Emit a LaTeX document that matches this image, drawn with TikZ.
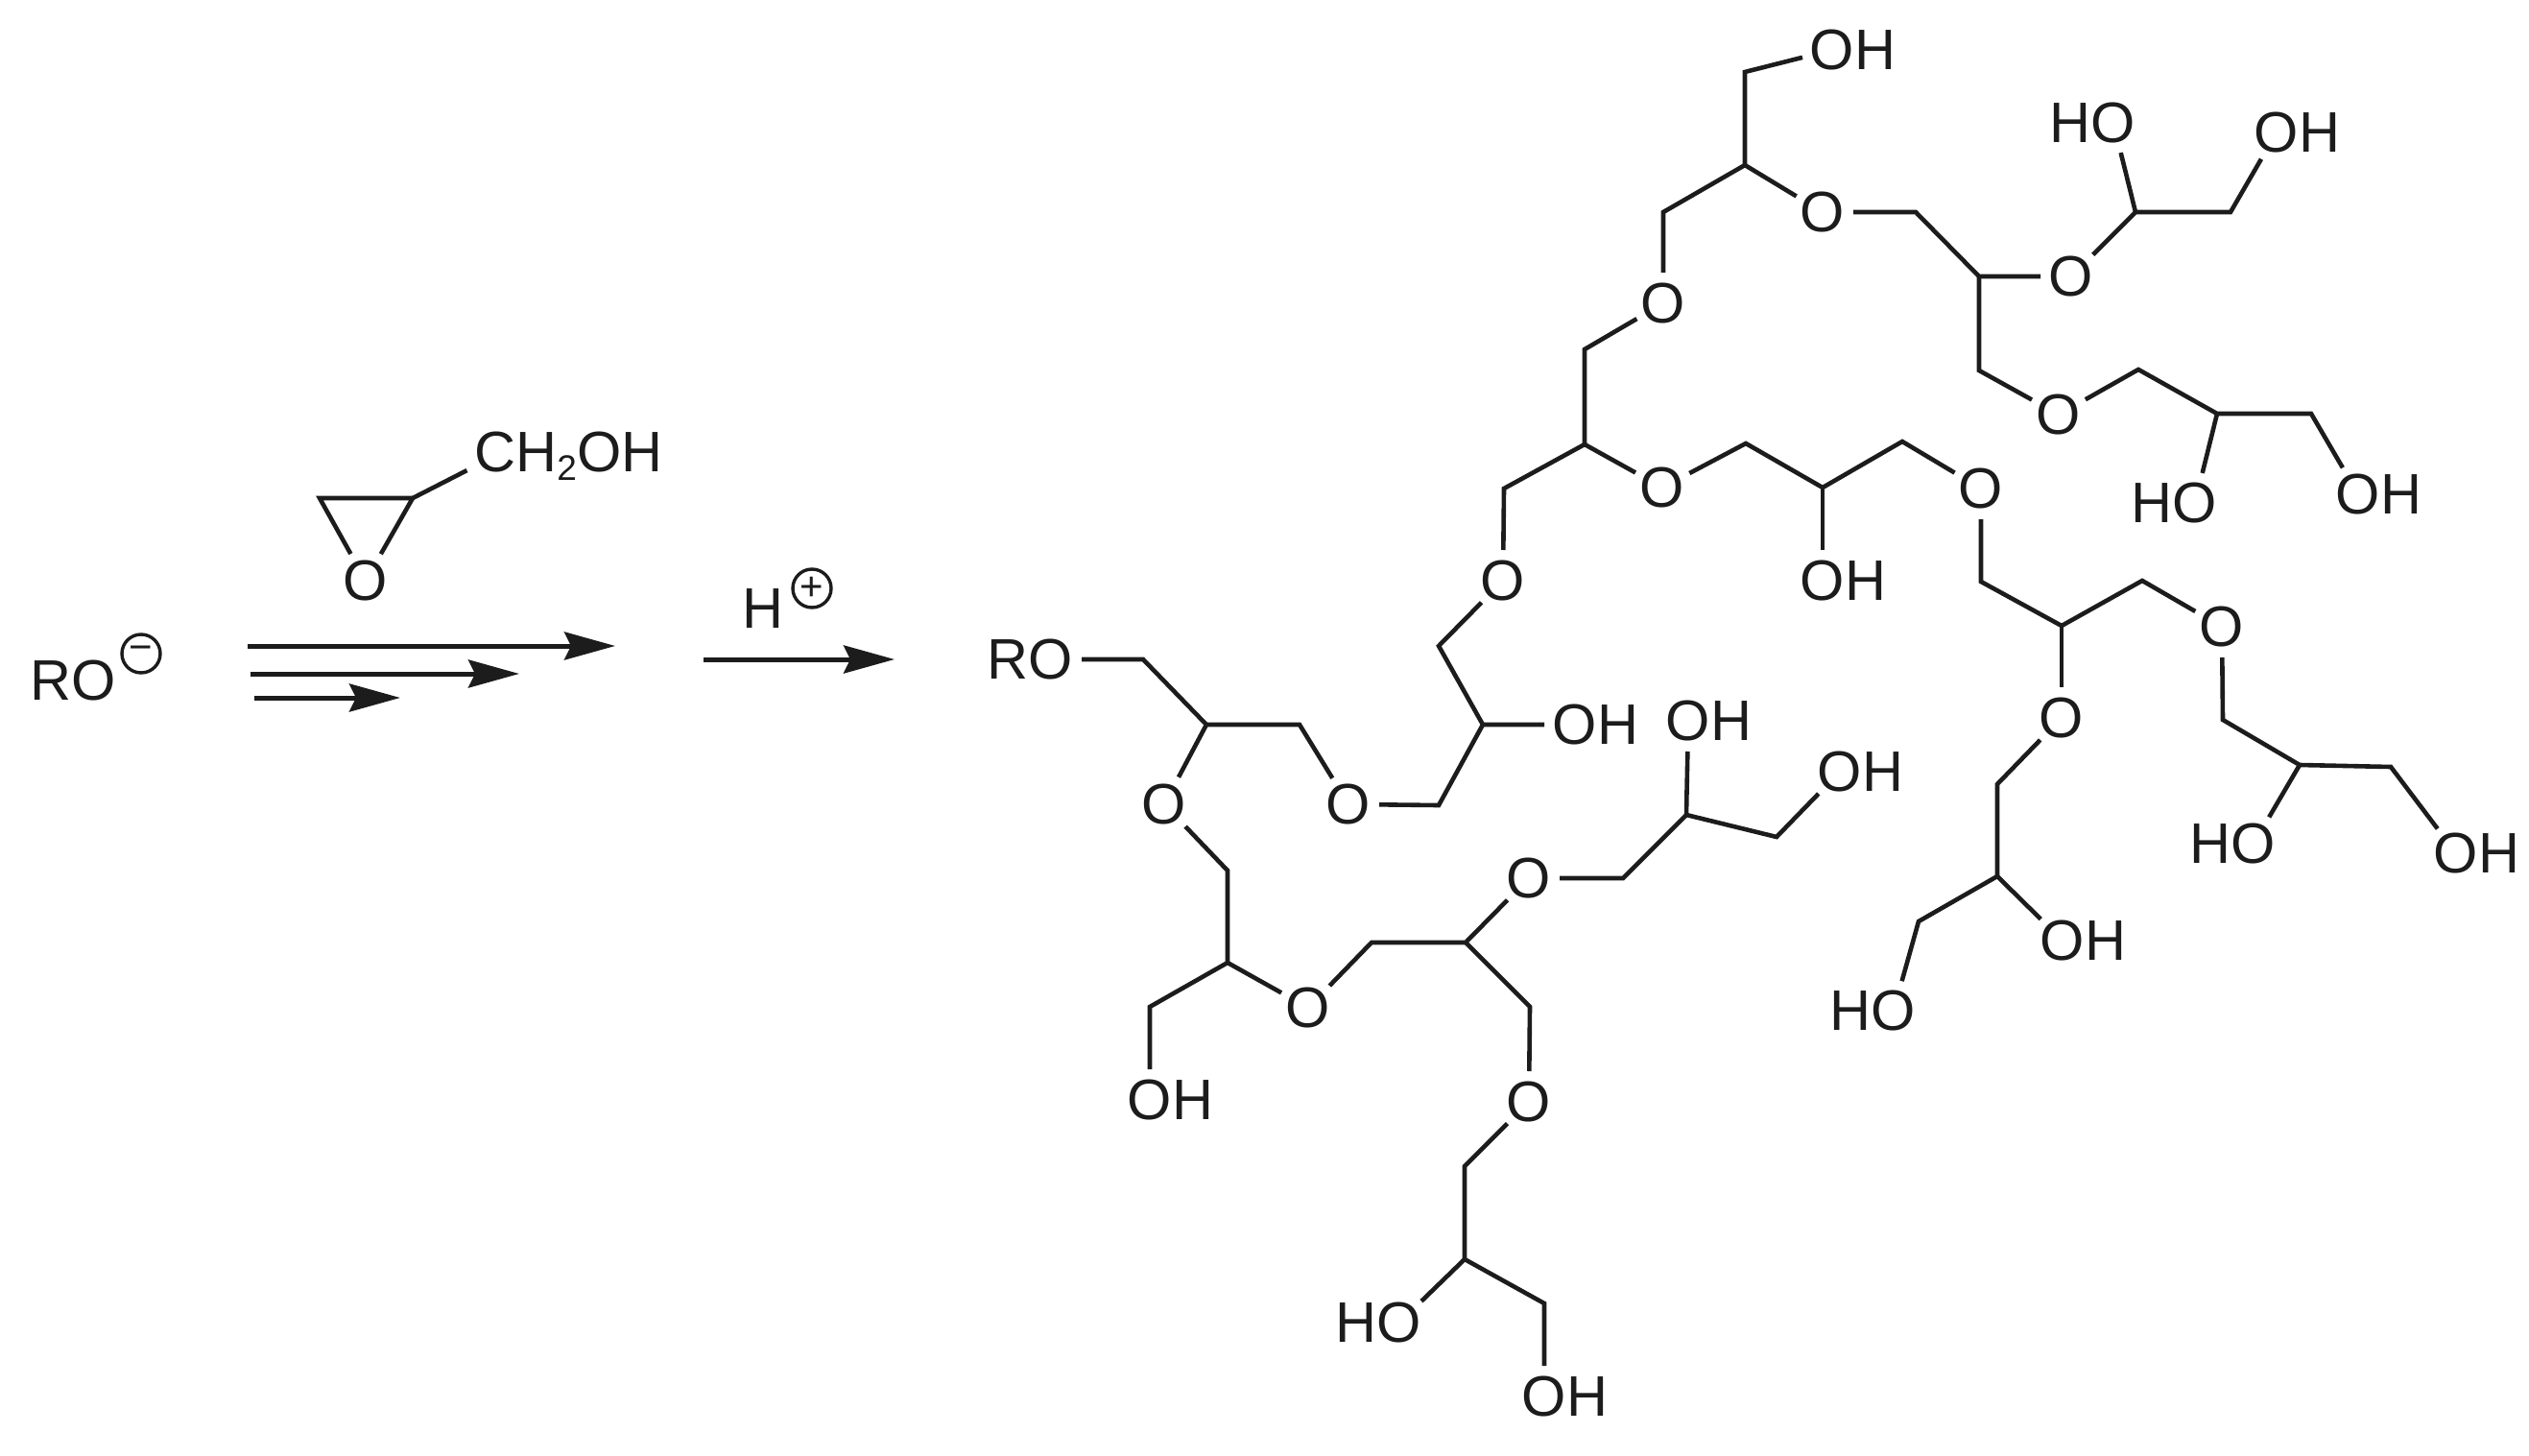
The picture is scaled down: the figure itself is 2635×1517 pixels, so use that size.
\documentclass[tikz,border=0pt]{standalone}
\usepackage{fontspec}
\setmainfont{Liberation Sans}
\usetikzlibrary{arrows.meta}
\definecolor{ink}{HTML}{1C1C1C}
\tikzset{
  atom/.style={circle,minimum size=64pt,inner sep=0pt,outer sep=0pt,text=ink,font=\fontsize{59.5}{70}\selectfont},
  plain/.style={inner sep=0pt,outer sep=0pt,text=ink,font=\fontsize{59.5}{70}\selectfont},
  bond/.style={draw=ink,line width=4.6pt,line join=miter},
  chg/.style={circle,draw=ink,line width=3.4pt,minimum size=40pt,inner sep=0pt,outer sep=0pt,text=ink,font=\fontsize{42}{42}\selectfont},
  rxn/.style={draw=ink,line width=5pt,-{Stealth[length=53pt,width=29pt,inset=7pt]}},
}
\newcommand{\OHr}{O\rlap{H}}
\newcommand{\HOl}{\llap{H}O}
\begin{document}
\begin{tikzpicture}[x=1pt,y=-1pt]
\useasboundingbox (0,0) rectangle (2635,1517);
% left side
\node[atom] (roLeft) at (98,709) {\llap{R}O};
\node[chg] (minus) at (147,681) {−};
\node[plain] (hplus) at (795,634) {H};
\node[chg] (plus) at (846,613) {+};
\coordinate (ep1) at (333,519);
\coordinate (ep2) at (430,519);
\node[atom] (epO) at (381,605) {O};
\node[atom] (epC) at (516,475) {C\rlap{H\raisebox{-9pt}{\fontsize{37}{37}\selectfont 2}OH}};
\draw[bond] (epO) -- (ep1) -- (ep2) -- (epO);
\draw[bond] (ep2) -- (epC);
\coordinate (a1s) at (258,673); \coordinate (a1e) at (641,673);
\coordinate (a2s) at (261,702); \coordinate (a2e) at (541,702);
\coordinate (a3s) at (265,727); \coordinate (a3e) at (417,727);
\coordinate (a4s) at (733,687); \coordinate (a4e) at (932,687);
\draw[rxn] (a1s) -- (a1e);
\draw[rxn] (a2s) -- (a2e);
\draw[rxn] (a3s) -- (a3e);
\draw[rxn] (a4s) -- (a4e);
% oxygens and hydroxyls
\node[atom] (ro) at (1095,687) {\llap{R}O};
\node[atom] (o1) at (1405,838) {O};
\node[atom] (oh1) at (1641,755) {\OHr};
\node[atom] (o2) at (1566,605) {O};
\node[atom] (o3) at (1732,508) {O};
\node[atom] (o4) at (1733,316) {O};
\node[atom] (oh2) at (1909,52) {\OHr};
\node[atom] (o5) at (1899,221) {O};
\node[atom] (o6) at (2158,288) {O};
\node[atom] (oh3) at (2372,138) {\OHr};
\node[atom] (ho3) at (2202,128) {\HOl};
\node[atom] (o7) at (2145,432) {O};
\node[atom] (oh4) at (2457,515) {\OHr};
\node[atom] (ho4) at (2287,524) {\HOl};
\node[atom] (oh5) at (1899,605) {\OHr};
\node[atom] (o8) at (2064,509) {O};
\node[atom] (o9) at (2315,653) {O};
\node[atom] (o10) at (2148,748) {O};
\node[atom] (oh6) at (2559,889) {\OHr};
\node[atom] (ho6) at (2348,879) {\HOl};
\node[atom] (oh7) at (2149,980) {\OHr};
\node[atom] (ho7) at (1973,1053) {\HOl};
\node[atom] (o11) at (1213,838) {O};
\node[atom] (oh8) at (1198,1146) {\OHr};
\node[atom] (o12) at (1363,1050) {O};
\node[atom] (o13) at (1593,915) {O};
\node[atom] (oh9) at (1759,751) {\OHr};
\node[atom] (oh10) at (1917,804) {\OHr};
\node[atom] (o14) at (1593,1148) {O};
\node[atom] (ho11) at (1458,1378) {\HOl};
\node[atom] (oh11) at (1609,1455) {\OHr};
% carbons
\coordinate (c1) at (1191,687);
\coordinate (c2) at (1257,755);
\coordinate (c3) at (1354,755);
\coordinate (c4) at (1499,839);
\coordinate (c5) at (1545,755);
\coordinate (c6) at (1499,673);
\coordinate (c7) at (1567,509);
\coordinate (c8) at (1651,463);
\coordinate (c9) at (1651,364);
\coordinate (c10) at (1733,221);
\coordinate (c11) at (1818,172);
\coordinate (c12) at (1818,75);
\coordinate (c13) at (1996,221);
\coordinate (c14) at (2062,288);
\coordinate (c15) at (2225,221);
\coordinate (c16) at (2324,221);
\coordinate (c17) at (2062,386);
\coordinate (c18) at (2228,385);
\coordinate (c19) at (2310,431);
\coordinate (c20) at (2408,431);
\coordinate (c21) at (1819,462);
\coordinate (c22) at (1899,508);
\coordinate (c23) at (1982,460);
\coordinate (c24) at (2064,606);
\coordinate (c25) at (2148,652);
\coordinate (c26) at (2232,605);
\coordinate (c27) at (2316,750);
\coordinate (c28) at (2396,797);
\coordinate (c29) at (2491,799);
\coordinate (c30) at (2081,817);
\coordinate (c31) at (2081,913);
\coordinate (c32) at (1999,960);
\coordinate (c33) at (1279,907);
\coordinate (c34) at (1279,1003);
\coordinate (c35) at (1198,1049);
\coordinate (c36) at (1429,982);
\coordinate (c37) at (1527,982);
\coordinate (c38) at (1691,915);
\coordinate (c39) at (1757,849);
\coordinate (c40) at (1851,872);
\coordinate (c41) at (1594,1049);
\coordinate (c42) at (1526,1215);
\coordinate (c43) at (1526,1312);
\coordinate (c44) at (1609,1358);
% bonds
\draw[bond] (ro) -- (c1) -- (c2) -- (c3) -- (o1);
\draw[bond] (o1) -- (c4) -- (c5) -- (oh1);
\draw[bond] (c5) -- (c6) -- (o2);
\draw[bond] (o2) -- (c7) -- (c8) -- (o3);
\draw[bond] (c8) -- (c9) -- (o4);
\draw[bond] (o4) -- (c10) -- (c11) -- (c12) -- (oh2);
\draw[bond] (c11) -- (o5);
\draw[bond] (o5) -- (c13) -- (c14) -- (o6);
\draw[bond] (o6) -- (c15) -- (c16) -- (oh3);
\draw[bond] (c15) -- (ho3);
\draw[bond] (c14) -- (c17) -- (o7);
\draw[bond] (o7) -- (c18) -- (c19) -- (c20) -- (oh4);
\draw[bond] (c19) -- (ho4);
\draw[bond] (o3) -- (c21) -- (c22) -- (c23) -- (o8);
\draw[bond] (c22) -- (oh5);
\draw[bond] (o8) -- (c24) -- (c25) -- (c26) -- (o9);
\draw[bond] (c25) -- (o10);
\draw[bond] (o9) -- (c27) -- (c28) -- (c29) -- (oh6);
\draw[bond] (c28) -- (ho6);
\draw[bond] (o10) -- (c30) -- (c31) -- (c32) -- (ho7);
\draw[bond] (c31) -- (oh7);
\draw[bond] (c2) -- (o11);
\draw[bond] (o11) -- (c33) -- (c34) -- (c35) -- (oh8);
\draw[bond] (c34) -- (o12);
\draw[bond] (o12) -- (c36) -- (c37) -- (o13);
\draw[bond] (o13) -- (c38) -- (c39) -- (oh9);
\draw[bond] (c39) -- (c40) -- (oh10);
\draw[bond] (c37) -- (c41) -- (o14);
\draw[bond] (o14) -- (c42) -- (c43) -- (c44) -- (oh11);
\draw[bond] (c43) -- (ho11);
\end{tikzpicture}
\end{document}
